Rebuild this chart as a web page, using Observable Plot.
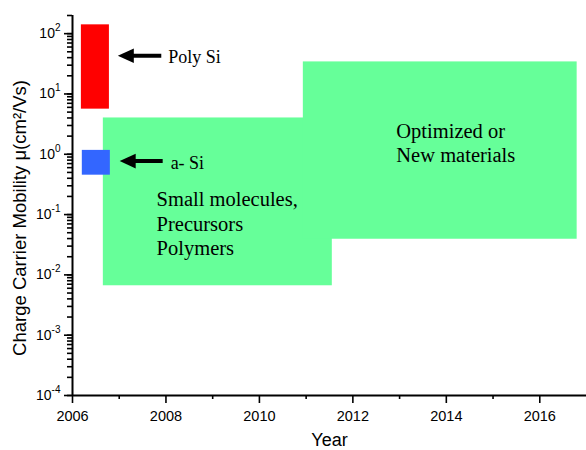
<!DOCTYPE html>
<html>
<head>
<meta charset="utf-8">
<script src="https://cdn.jsdelivr.net/npm/d3@7"></script>
<script src="https://cdn.jsdelivr.net/npm/@observablehq/plot@0.6"></script>
<style>
  html, body { margin: 0; padding: 0; background: #fff; }
</style>
</head>
<body>
<div id="chart"></div>
<script>
// ---- data ----
const rectNames  = ["Small molecules", "Optimized", "Poly Si", "a- Si"];
const rectX1     = [2006.66, 2010.94, 2006.19, 2006.21];
const rectX2     = [2011.56, 2016.80, 2006.79, 2006.81];
const rectYLow   = [0.0066, 0.039, 5.6, 0.45];
const rectYHigh  = [4.0, 34, 140, 1.16];
const rectColors = ["#66ff99", "#66ff99", "#ff0000", "#3366ff"];

const arrowTipX   = [2006.97, 2007.01];
const arrowShaftX = [2007.20, 2007.24];
const arrowTailX  = [2007.90, 2007.93];
const arrowY      = [43, 0.77];

const noteText = ["Poly Si", "a- Si", "Small molecules,\nPrecursors\nPolymers", "Optimized or\nNew materials"];
const noteX    = [2008.05, 2008.10, 2007.80, 2012.93];
const noteY    = [58.6, 1.04, 0.268, 3.68];
const noteSize = [18, 18, 20.5, 20.5];

const xMajorTicks = [2006, 2008, 2010, 2012, 2014, 2016];
const xMinorTicks = [2007, 2009, 2011, 2013, 2015];
const yMajorTicks = [1e-4, 1e-3, 1e-2, 1e-1, 1e0, 1e1, 1e2];
const xDomain = [2006, 2017];
const yDomain = [1e-4, 200];

const xTitle = "Year";
const yTitle = "Charge Carrier Mobility \u03bc(cm\u00b2/Vs)";

// ---- tables built from the arrays ----
const rects = rectNames.map((n, i) => ({name: n, x1: rectX1[i], x2: rectX2[i], y1: rectYLow[i], y2: rectYHigh[i], fill: rectColors[i]}));
const arrows = arrowTipX.map((t, i) => ({tip: t, shaft: arrowShaftX[i], tail: arrowTailX[i], y: arrowY[i]}));
const notes = noteText.map((t, i) => ({text: t, x: noteX[i], y: noteY[i], size: noteSize[i]}));
const yMinorTicks = d3.scaleLog().domain(yDomain).ticks();

const arrowHead = {
  draw(context) {
    context.moveTo(-8, 0);
    context.lineTo(8, -7.3);
    context.lineTo(8, 7.3);
    context.closePath();
  }
};

const sans = "'Liberation Sans', Arial, sans-serif";
const serif = "'Liberation Serif', 'Times New Roman', serif";

const chart = Plot.plot({
  width: 586,
  height: 450,
  marginLeft: 72,
  marginRight: 0,
  marginTop: 15,
  marginBottom: 55,
  style: {fontFamily: sans, background: "#fff", overflow: "visible"},
  x: {domain: xDomain},
  y: {type: "log", domain: yDomain},
  color: {type: "identity"},
  marks: [
    Plot.rect(rects, {x1: "x1", x2: "x2", y1: "y1", y2: "y2", fill: "fill"}),
    Plot.link(arrows, {x1: "shaft", x2: "tail", y1: "y", y2: "y", stroke: "#000", strokeWidth: 4}),
    Plot.dot(arrows, {x: "tip", y: "y", symbol: arrowHead, fill: "#000", stroke: "none", r: 8, dx: 8}),
    Plot.text(notes, {x: "x", y: "y", text: "text", fontSize: "size", fontFamily: serif, fill: "#000",
      textAnchor: "start", lineAnchor: "top", lineHeight: 1.2}),
    Plot.axisX({ticks: xMajorTicks, tickSize: 8, tickPadding: 7, tickFormat: d => String(d), fontSize: 14.5, strokeWidth: 1.6, label: null}),
    Plot.axisX({ticks: xMinorTicks, tickSize: 4, tickFormat: () => "", strokeWidth: 1.6, label: null}),
    Plot.axisY({ticks: yMajorTicks, tickSize: 8, tickPadding: 4, tickFormat: d => String(Math.round(Math.log10(d))), fontSize: 14, strokeWidth: 1.6, label: null}),
    Plot.axisY({ticks: yMinorTicks, tickSize: 5, tickFormat: () => "", strokeWidth: 1.6, label: null}),
    Plot.ruleX([xDomain[0]], {stroke: "#000", strokeWidth: 2}),
    Plot.ruleY([yDomain[0]], {stroke: "#000", strokeWidth: 2}),
    Plot.text([xTitle], {frameAnchor: "bottom", textAnchor: "middle", lineAnchor: "middle", dy: 45, fontSize: 18, fontFamily: sans, fill: "#000"}),
    Plot.text([yTitle], {frameAnchor: "left", textAnchor: "middle", lineAnchor: "middle", rotate: -90, dx: -52, dy: 12.5, fontSize: 18.5, fontFamily: sans, fill: "#000"})
  ]
});

// superscript exponents on the log axis labels
const ns = "http://www.w3.org/2000/svg";
chart.querySelectorAll('g[aria-label="y-axis tick label"] text').forEach(t => {
  const e = t.textContent;
  if (!e) return;
  t.textContent = "";
  const base = document.createElementNS(ns, "tspan");
  base.textContent = "10";
  const sup = document.createElementNS(ns, "tspan");
  sup.setAttribute("dy", "-7");
  sup.setAttribute("font-size", "10");
  sup.textContent = e;
  t.append(base, sup);
});

document.getElementById("chart").append(chart);
</script>
</body>
</html>
